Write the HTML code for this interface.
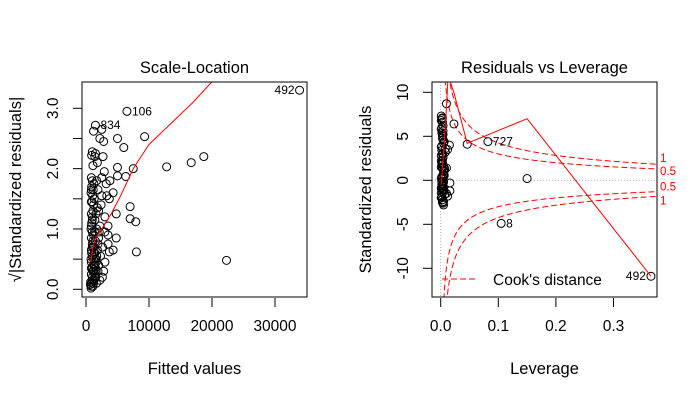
<!DOCTYPE html>
<html><head><meta charset="utf-8"><style>
html,body{margin:0;padding:0;width:700px;height:400px;overflow:hidden;background:#fff}
svg{display:block;font-family:"Liberation Sans",sans-serif;overflow:hidden}
</style></head><body>
<svg id="c" width="700" height="400" viewBox="0 0 700 400"></svg>
<script>
// Scale-Location data (fitted, sqrt|std resid|)
const slFitted = [
 33900,6500,1500,1200,2500,2200,2800,5000,6000,9300,
 12800,16700,18700,22300,7500,5000,6300,7000,7000,7900,
 8000,4800,4800,4300,3700,3300,3800,2900,2700,1800,
 1500,1400,1700,2500,3200,3000,3500,3500,3500,4300,
 3700,3000,2800,2600,2200,5000,2000,2500,1100,1900,
 800,900,1000,1100,1200,800,900,1000,1100,1200,
 800,900,1000,1100,1200,1300,800,900,1000,1100,
 1300,1400,1500,1600,1700,1800,1900,2000,2100,2200,
 1400,1600,1800,1300,1500,1700,1900,700,750,850,
 950,1050,1150,1250,1350,1450,1550,1650,900,1000,
 850,850,850,850,850,850,850,850,850,850,
 1000,1000,1000,1000,1000,1000,1200,1200,1200,1200,
 1400,1400,1400,1600,1600,2000,2300,2600,2400,3000];
const slValue = [
 3.3,2.95,2.72,2.62,2.65,2.5,2.45,2.5,2.35,2.53,
 2.03,2.1,2.2,0.48,2.0,2.02,1.87,1.37,1.17,1.12,
 0.62,1.25,0.85,1.6,1.5,1.55,1.8,1.95,2.2,2.1,
 2.25,2.2,1.8,1.85,1.75,1.2,1.05,0.9,0.75,0.65,
 0.62,0.45,0.3,0.2,0.15,1.88,1.3,1.55,2.05,1.65,
 0.02,0.1,0.2,0.3,0.4,0.5,0.6,0.7,0.8,0.9,
 1.0,1.1,1.2,1.3,1.4,1.5,1.6,1.7,1.8,0.05,
 0.15,0.25,0.35,0.45,0.55,0.65,0.75,0.85,0.95,1.05,
 1.15,1.25,1.35,0.6,0.8,1.0,0.3,0.08,0.12,0.35,
 1.45,1.55,1.65,1.75,0.95,0.5,0.2,0.1,2.22,2.28,
 0.05,0.25,0.45,0.65,0.85,1.05,1.25,1.45,1.65,1.85,
 0.15,0.35,0.55,0.75,0.95,1.15,0.1,0.3,0.5,0.7,
 0.2,0.4,0.6,0.3,0.5,0.4,0.55,0.7,1.4,0.95];
const slLineX = [800,1000,1500,2500,4000,5500,7500,10000,13000,17000,20000,24000];
const slLineY = [0.45,0.65,0.85,1.0,1.25,1.55,2.0,2.4,2.7,3.1,3.44,3.8];
const slLabels = [["492",33900,3.3,"left"],["106",6500,2.95,"right"],["834",1500,2.72,"right"]];
const slXTicks = [0,10000,20000,30000];
const slYTicks = [0,0.5,1,1.5,2,2.5,3];
const slYTickLabels = ["0.0","","1.0","","2.0","","3.0"];
// Residuals vs Leverage data
const rlLev = [
 0.365,0.082,0.105,0.15,0.046,0.023,0.01,0.015,0.01,0.016,
 0.016,0.012,0.005,0.003,0.001,0.002,0.003,0.004,0.001,0.002,
 0.003,0.004,0.005,0.001,0.002,0.003,0.004,0.001,0.002,0.003,
 0.005,0.006,0.001,0.002,0.003,0.004,0.001,0.002,0.003,0.005,
 0.007,0.001,0.002,0.004,0.006,0.008,0.001,0.003,0.005,0.002,
 0.004,0.006,0.001,0.003,0.008,0.002,0.005,0.012,0.01,0.004,
 0.001,0.002,0.003,0.004,0.005,0.006,0.001,0.002,0.003,0.004,
 0.002,0.003,0.004,0.005,0.006,0.007,0.002,0.003,0.004,0.005];
const rlRes = [
 -10.9,4.4,-4.9,0.2,4.1,6.4,8.7,4.0,1.4,-0.3,
 -1.2,-1.8,-2.8,-2.5,7.3,7.0,6.6,6.2,5.8,5.4,
 5.0,4.6,4.2,3.8,3.4,3.0,2.6,2.2,1.8,1.4,
 1.0,0.6,0.2,-0.2,-0.6,-1.0,-1.4,-1.8,-2.2,-2.4,
 -1.6,6.8,6.0,5.2,4.4,3.6,2.8,2.0,1.2,0.4,
 -0.4,-1.2,-2.0,7.1,3.2,-0.8,1.6,3.5,-1.5,-2.6,
 -0.9,-0.5,-0.1,0.3,0.7,1.1,1.5,1.9,2.3,2.7,
 -1.9,-1.3,-0.7,-0.2,0.5,1.3,3.9,4.8,5.6,-1.0];
const rlLineX = [0.001,0.008,0.013,0.02,0.022,0.046,0.15,0.365];
const rlLineY = [-0.5,6,12,10.5,10.2,4.2,7,-10.9];
const rlLabels = [["492",0.365,-10.9,"left"],["727",0.082,4.4,"right"],["8",0.105,-4.9,"right"]];
const rlXTicks = [0,0.1,0.2,0.3];
const rlXTickLabels = ["0.0","0.1","0.2","0.3"];
const rlYTicks = [-10,-5,0,5,10];
const cookLevels = [0.5,1];

const S = document.getElementById('c'), NS = 'http://www.w3.org/2000/svg';
function mk(tag, attrs, parent){const e=document.createElementNS(NS,tag);for(const k in attrs)e.setAttribute(k,attrs[k]);(parent||S).appendChild(e);return e;}
function txt(s,x,y,attrs,parent){const t=mk('text',Object.assign({x:x,y:y,'font-size':15.5,fill:'#000'},attrs||{}),parent);t.textContent=s;return t;}

function panel(cfg){
  const g = mk('g',{});
  
  
  const xs = v => cfg.x0 + (v - cfg.xa) / (cfg.xb - cfg.xa) * (cfg.x1 - cfg.x0);
  const ys = v => cfg.y0 + (v - cfg.ya) / (cfg.yb - cfg.ya) * (cfg.y1 - cfg.y0);
  const clipId = cfg.name + '-clip';
  const cp = mk('clipPath',{id:clipId},g); mk('rect',{x:cfg.L,y:cfg.T,width:cfg.R-cfg.L,height:cfg.B-cfg.T},cp);
  const inner = mk('g',{'clip-path':'url(#'+clipId+')'},g);
  if (cfg.extra) cfg.extra(inner, xs, ys, g);
  cfg.px.forEach((v,i)=>{
    const c = mk('circle',{cx:xs(v),cy:ys(cfg.py[i]),r:4,fill:'none',stroke:'#000','stroke-width':1},inner);
    
    
  });
  const line = mk('polyline',{points:cfg.lx.map((v,i)=>xs(v)+','+ys(cfg.ly[i])).join(' '),fill:'none',stroke:'#f00','stroke-width':1},inner);
  
  
  cfg.labels.forEach(l=>{
    const left = l[3]==='left';
    const t = txt(l[0], xs(l[1]) + (left?-5:5), ys(l[2])+4, {'font-size':12,'text-anchor':left?'end':'start'}, g);
    
    
  });
  const box = mk('rect',{x:cfg.L,y:cfg.T,width:cfg.R-cfg.L,height:cfg.B-cfg.T,fill:'none',stroke:'#000'},g);
  
  
  const xax = mk('g',{},g);
  
  
  cfg.xt.forEach((v,i)=>{mk('line',{x1:xs(v),x2:xs(v),y1:cfg.B+1,y2:cfg.B+10,stroke:'#000'},xax);
    txt(cfg.xtl[i],xs(v),cfg.B+34,{'text-anchor':'middle'},xax);});
  const yax = mk('g',{},g);
  
  
  cfg.yt.forEach((v,i)=>{mk('line',{x1:cfg.L-9,x2:cfg.L,y1:ys(v),y2:ys(v),stroke:'#000'},yax);
    if(cfg.ytl[i]) txt(cfg.ytl[i],0,0,{'text-anchor':'middle',transform:'translate('+(cfg.L-24)+','+ys(v)+') rotate(-90)'},yax);});
  const tt = txt(cfg.title,(cfg.L+cfg.R)/2,73,{'text-anchor':'middle','font-size':16.5},g);
   
  const xt = txt(cfg.xlab,(cfg.L+cfg.R)/2,374,{'text-anchor':'middle','font-size':16.5},g);
   
  const yt = txt(cfg.ylab,0,0,{'text-anchor':'middle','font-size':16.5,transform:'translate('+(cfg.L-61)+','+((cfg.T+cfg.B)/2)+') rotate(-90)'},g);
   
}

panel({name:'scale-location-panel',L:82,R:307,T:82,B:297,
  xa:0,xb:10000,x0:86,x1:149, ya:0,yb:3,y0:289.3,y1:108.3,
  px:slFitted,py:slValue,lx:slLineX,ly:slLineY,labels:slLabels,
  xt:slXTicks,xtl:slXTicks.map(String),yt:slYTicks,ytl:slYTickLabels,
  title:'Scale-Location',xlab:'Fitted values',ylab:'\u221A|Standardized residuals|'});

panel({name:'residuals-vs-leverage-panel',L:432,R:657,T:82,B:297,
  xa:0,xb:0.1,x0:440.7,x1:498.3, ya:0,yb:10,y0:180.3,y1:92.3,
  px:rlLev,py:rlRes,lx:rlLineX,ly:rlLineY,labels:rlLabels,
  xt:rlXTicks,xtl:rlXTickLabels,yt:rlYTicks,ytl:rlYTicks.map(String),
  title:'Residuals vs Leverage',xlab:'Leverage',ylab:'Standardized residuals',
  extra:function(inner,xs,ys,g){
    mk('line',{x1:432,x2:657,y1:ys(0),y2:ys(0),stroke:'#aaa','stroke-dasharray':'1,2'},inner);
    mk('line',{x1:xs(0),x2:xs(0),y1:82,y2:298,stroke:'#aaa','stroke-dasharray':'1,2'},inner);
    const p = 2;
    cookLevels.forEach(c=>{
      [1,-1].forEach(sg=>{
        const pts=[];
        for(let h=0.0015;h<=0.38;h+=0.001){pts.push(xs(h)+','+ys(sg*Math.sqrt(c*p*(1-h)/h)));}
        const pl = mk('polyline',{points:pts.join(' '),fill:'none',stroke:'#f00','stroke-dasharray':'6,3'},inner);
        
        
        const yv = sg*Math.sqrt(c*p*(1-0.375)/0.375);
        const lb = txt(c===1?'1':'0.5',660,ys(yv)+(c===1?(sg>0?-2:8):(sg>0?6:-1)),{'font-size':11.5,fill:'#f00'},g);
        
        
      });
    });
    const lg = mk('g',{},g);
    
    
    mk('line',{x1:442,x2:477,y1:279,y2:279,stroke:'#f00','stroke-dasharray':'6,3'},lg);
    txt("Cook's distance",493,285,{'font-size':15.5},lg);
  }});
</script>
</body></html>
